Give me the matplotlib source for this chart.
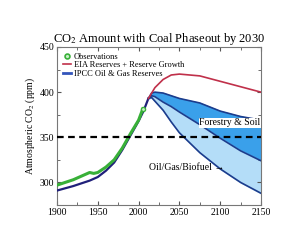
import matplotlib
matplotlib.use('Agg')
import matplotlib.pyplot as plt

plt.rcParams['font.family'] = ['Liberation Serif', 'DejaVu Serif']
plt.rcParams['mathtext.fontset'] = 'stix'

# observations (green)
obs_years = [1900, 1910, 1920, 1930, 1940, 1945, 1950, 1960, 1970, 1980, 1990, 2000, 2005]
obs_co2 = [297, 300, 303, 307, 311, 310, 311, 317, 325, 338, 354, 369, 381]

# historical model run (dark blue)
model_years = [1900, 1920, 1940, 1950, 1960, 1970, 1980, 1990, 2000, 2006, 2012]
model_co2 = [291, 296, 302, 306, 313, 322, 336, 352, 368, 379, 393]

# projections
proj_years = [2012, 2016, 2020, 2030, 2040, 2050, 2075, 2100, 2125, 2150]
eia = [393, 399, 405, 414, 419, 420, 418, 412, 406, 400]
ipcc = [393, 399, 400, 399, 396, 393, 388, 379, 373, 369]
forestry = [393, 396, 395, 389, 384, 378, 364, 349, 335, 324]
oilgas = [393, 394, 390, 380, 367, 355, 333, 315, 300, 288]

target = 350

fig = plt.figure(figsize=(3, 2.5), dpi=100)
ax = fig.add_axes([0.19, 0.18, 0.68, 0.632])

ax.fill_between(proj_years, forestry, ipcc, color='#3aa0ea', zorder=1)
ax.fill_between(proj_years, oilgas, forestry, color='#b4ddf8', zorder=1)
for s in (ipcc, forestry, oilgas):
    ax.plot(proj_years, s, color='#1c3c8c', lw=1.2, zorder=2)

ax.plot(model_years, model_co2, color='#20207a', lw=1.6, zorder=3)
ax.plot(obs_years, obs_co2, color='#38b038', lw=2.2, zorder=4)
ax.plot(obs_years[-1], obs_co2[-1], 'o', ms=3, mfc='#c8f0c8', mec='#38b038', zorder=5)
ax.plot(proj_years, eia, color='#c0304a', lw=1.2, zorder=3)

ax.axhline(target, color='black', ls=(0, (3, 2)), lw=1.6, zorder=6)

ax.text(2112, 366, 'Forestry & Soil', fontsize=7, ha='center', va='center',
        bbox=dict(facecolor='white', edgecolor='none', pad=0.5), zorder=7)
ax.text(2013, 317, 'Oil/Gas/Biofuel \u2192', fontsize=7, ha='left', va='center', zorder=7)

# legend
ax.plot([], [], 'o', ms=3.5, mfc='#c8f0c8', mec='#38b038', mew=1.2, label='Observations')
ax.plot([], [], color='#c0304a', lw=1.2, label='EIA Reserves + Reserve Growth')
ax.plot([], [], color='#3355bb', lw=2, label='IPCC Oil & Gas Reserves')
ax.legend(loc='upper left', fontsize=6, frameon=False, handlelength=1.0,
          handletextpad=0.3, labelspacing=0.05, borderaxespad=0.3)

ax.set_xlim(1900, 2150)
ax.set_ylim(275, 450)
ax.set_xticks([1900, 1950, 2000, 2050, 2100, 2150])
ax.set_xticks(range(1925, 2150, 50), minor=True)
ax.set_yticks([300, 350, 400, 450])
ax.set_yticks([325, 375, 425], minor=True)
ax.tick_params(which='both', direction='in', top=True, right=True, labelsize=7,
               color='#555555', length=3, pad=2)
ax.tick_params(which='minor', length=2)
for sp in ax.spines.values():
    sp.set_color('#777777')

ax.set_ylabel('Atmospheric CO$_2$ (ppm)', fontsize=7, labelpad=2)
ax.set_title('CO$_2$ Amount with Coal Phaseout by 2030', fontsize=9, pad=3)

fig.savefig('out.png', dpi=100)
